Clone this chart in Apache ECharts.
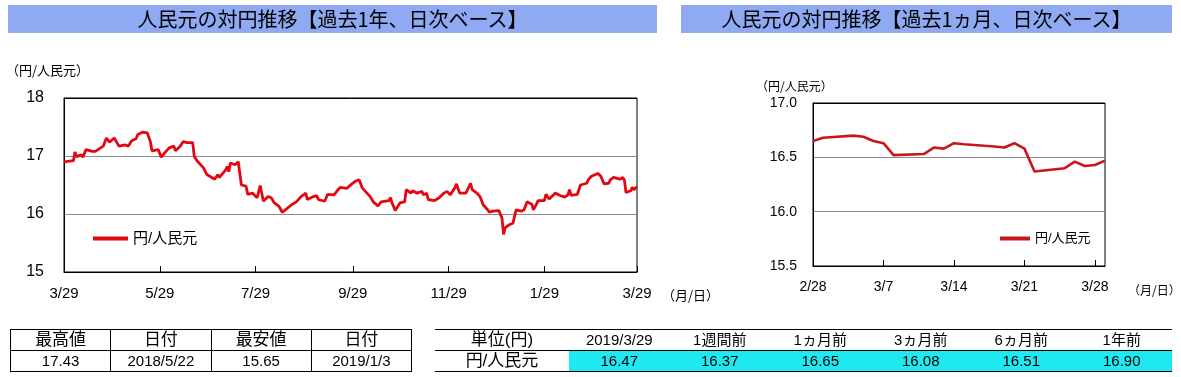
<!DOCTYPE html>
<html>
<head>
<meta charset="utf-8">
<script src="https://cdn.jsdelivr.net/npm/echarts@6/dist/echarts.min.js"></script>
<style>
  body { margin: 0; background: #fff; }
  #wrap { position: relative; width: 1181px; height: 377px; overflow: hidden;
    font-family: 'Liberation Sans', 'Noto Sans CJK JP', sans-serif; color: #000; }
  #chart { position: absolute; left: 0; top: 0; width: 1181px; height: 377px; }
  .title { position: absolute; top: 5px; height: 28px; line-height: 28px; background: #8faaf3;
    text-align: center; font-size: 20px; font-family: 'Noto Sans CJK JP', sans-serif; }
  table { position: absolute; border-collapse: collapse; table-layout: fixed; font-size: 15px; }
  td { height: 20px; padding: 0; text-align: center; line-height: 20px; white-space: nowrap; }
  #stats td { border: 1px solid #000; }
  #compare td { border-top: 1px solid #000; border-bottom: 1px solid #000; }
  #compare tr.vals td.cyan { background: #20e8f0; }
  .hd { font-size: 17px; }
</style>
</head>
<body>
<div id="wrap">
  <div id="chart"></div>
  <div class="title" style="left:8px;width:649px">人民元の対円推移【過去1年、日次ベース】</div>
  <div class="title" style="left:681px;width:491px">人民元の対円推移【過去1ヵ月、日次ベース】</div>
  <table id="stats" style="left:10px;top:329px;width:402px"></table>
  <table id="compare" style="left:435px;top:329px;width:737px"></table>
</div>
<script>
// 1年 日次
const yearDates = [
  '2018/3/29','2018/4/4','2018/4/5','2018/4/6','2018/4/9','2018/4/10','2018/4/12','2018/4/16','2018/4/18','2018/4/23',
  '2018/4/25','2018/4/27','2018/4/30','2018/5/3','2018/5/7','2018/5/9','2018/5/11','2018/5/14','2018/5/15','2018/5/16',
  '2018/5/18','2018/5/21','2018/5/22','2018/5/23','2018/5/24','2018/5/28','2018/5/30','2018/6/1','2018/6/4','2018/6/7',
  '2018/6/8','2018/6/11','2018/6/13','2018/6/15','2018/6/19','2018/6/20','2018/6/22','2018/6/26','2018/6/28','2018/6/29',
  '2018/7/3','2018/7/5','2018/7/6','2018/7/10','2018/7/11','2018/7/12','2018/7/13','2018/7/16','2018/7/17','2018/7/18',
  '2018/7/20','2018/7/23','2018/7/24','2018/7/27','2018/7/30','2018/7/31','2018/8/1','2018/8/3','2018/8/6','2018/8/8',
  '2018/8/10','2018/8/13','2018/8/15','2018/8/17','2018/8/21','2018/8/24','2018/8/27','2018/8/30','2018/8/31','2018/9/4',
  '2018/9/6','2018/9/7','2018/9/11','2018/9/13','2018/9/14','2018/9/17','2018/9/19','2018/9/21','2018/9/25','2018/9/28',
  '2018/10/1','2018/10/3','2018/10/5','2018/10/10','2018/10/12','2018/10/15','2018/10/17','2018/10/22','2018/10/23','2018/10/24',
  '2018/10/26','2018/10/29','2018/11/1','2018/11/2','2018/11/5','2018/11/6','2018/11/9','2018/11/12','2018/11/13','2018/11/15',
  '2018/11/16','2018/11/20','2018/11/23','2018/11/26','2018/11/28','2018/11/30','2018/12/3','2018/12/4','2018/12/6','2018/12/7',
  '2018/12/10','2018/12/13','2018/12/14','2018/12/17','2018/12/19','2018/12/21','2018/12/24','2018/12/25','2018/12/27','2018/12/28',
  '2018/12/31','2019/1/2','2019/1/3','2019/1/4','2019/1/7','2019/1/9','2019/1/10','2019/1/11','2019/1/14','2019/1/16',
  '2019/1/18','2019/1/21','2019/1/22','2019/1/24','2019/1/25','2019/1/29','2019/1/30','2019/2/1','2019/2/5','2019/2/8',
  '2019/2/11','2019/2/13','2019/2/14','2019/2/15','2019/2/19','2019/2/21','2019/2/25','2019/2/26','2019/2/28','2019/3/1',
  '2019/3/4','2019/3/5','2019/3/6','2019/3/7','2019/3/8','2019/3/11','2019/3/12','2019/3/13','2019/3/14','2019/3/15',
  '2019/3/18','2019/3/19','2019/3/20','2019/3/21','2019/3/22','2019/3/25','2019/3/26','2019/3/27','2019/3/28','2019/3/29'
];
const yearValues = [
  16.90,16.92,17.07,16.99,17.02,16.98,17.11,17.08,17.08,17.17,
  17.31,17.24,17.31,17.17,17.19,17.17,17.26,17.30,17.37,17.34,
  17.41,17.40,17.43,17.25,17.09,17.11,16.98,17.05,17.14,17.17,
  17.09,17.17,17.25,17.23,17.23,16.99,16.91,16.79,16.68,16.71,
  16.60,16.68,16.63,16.76,16.82,16.73,16.88,16.85,16.88,16.90,
  16.50,16.48,16.34,16.36,16.28,16.28,16.49,16.22,16.30,16.28,
  16.19,16.13,16.03,16.07,16.16,16.21,16.30,16.36,16.25,16.30,
  16.32,16.25,16.22,16.34,16.36,16.33,16.40,16.46,16.44,16.51,
  16.57,16.59,16.45,16.30,16.21,16.14,16.21,16.23,16.28,16.19,
  16.06,16.19,16.21,16.42,16.36,16.40,16.36,16.39,16.33,16.36,
  16.25,16.23,16.28,16.36,16.39,16.33,16.45,16.52,16.36,16.39,
  16.36,16.53,16.42,16.36,16.30,16.16,16.07,16.03,16.05,16.08,
  16.06,15.93,15.65,15.76,15.82,15.84,15.96,16.07,16.05,16.07,
  16.21,16.17,16.07,16.17,16.23,16.23,16.34,16.26,16.36,16.32,
  16.29,16.33,16.42,16.32,16.34,16.50,16.53,16.59,16.65,16.68,
  16.70,16.69,16.65,16.63,16.52,16.53,16.59,16.58,16.63,16.62,
  16.60,16.59,16.63,16.58,16.37,16.40,16.46,16.42,16.43,16.47
];
const yearTicks = ['2018/3/29','2018/5/29','2018/7/29','2018/9/29','2018/11/29','2019/1/29','2019/3/29'];

// 1ヵ月 日次
const monthDates = [
  '2019/2/28','2019/3/1','2019/3/4','2019/3/5','2019/3/6','2019/3/7','2019/3/8','2019/3/11','2019/3/12','2019/3/13',
  '2019/3/14','2019/3/15','2019/3/18','2019/3/19','2019/3/20','2019/3/21','2019/3/22','2019/3/25','2019/3/26','2019/3/27',
  '2019/3/28','2019/3/29'
];
const monthValues = [
  16.65,16.68,16.70,16.69,16.65,16.63,16.52,16.53,16.59,16.58,
  16.63,16.62,16.60,16.59,16.63,16.58,16.37,16.40,16.46,16.42,
  16.43,16.47
];
const monthTicks = ['2019/2/28','2019/3/7','2019/3/14','2019/3/21','2019/3/28'];
const monthEnd = '2019/3/29';

// 表
const statsHeaders = ['最高値', '日付', '最安値', '日付'];
const statsValues = ['17.43', '2018/5/22', '15.65', '2019/1/3'];
const compareHeaders = ['単位(円)', '2019/3/29', '1週間前', '1ヵ月前', '3ヵ月前', '6ヵ月前', '1年前'];
const compareLabel = '円/人民元';
const compareValues = [16.47, 16.37, 16.65, 16.08, 16.51, 16.90];

const seriesName = '円/人民元';
const yearColor = '#e3070f';
const monthColor = '#c8161d';

function toTime(s) {
  const p = s.split('/').map(Number);
  return new Date(p[0], p[1] - 1, p[2]).getTime();
}
function md(v) {
  const d = new Date(v);
  return (d.getMonth() + 1) + '/' + d.getDate();
}

// tables
let statsHtml = '<colgroup>' + statsHeaders.map(() => '<col style="width:100px">').join('') + '</colgroup>';
statsHtml += '<tr>' + statsHeaders.map(h => '<td class="hd">' + h + '</td>').join('') + '</tr>';
statsHtml += '<tr>' + statsValues.map(v => '<td>' + v + '</td>').join('') + '</tr>';
document.getElementById('stats').innerHTML = statsHtml;

let cmpHtml = '<colgroup><col style="width:134px">' + compareValues.map(() => '<col style="width:100.5px">').join('') + '</colgroup>';
cmpHtml += '<tr>' + compareHeaders.map((h, i) => '<td class="' + (i === 0 ? 'hd' : '') + '">' + h + '</td>').join('') + '</tr>';
cmpHtml += '<tr class="vals"><td class="hd">' + compareLabel + '</td>' +
  compareValues.map(v => '<td class="cyan">' + v.toFixed(2) + '</td>').join('') + '</tr>';
document.getElementById('compare').innerHTML = cmpHtml;

const chart = echarts.init(document.getElementById('chart'), null, { renderer: 'canvas' });
const fontFamily = "'Liberation Sans', 'Noto Sans CJK JP', sans-serif";

const yearData = yearDates.map((d, i) => [toTime(d), yearValues[i]]);
const monthData = monthDates.map((d, i) => [toTime(d), monthValues[i]]);

// 日付はタイムスタンプの数値軸で持ち、目盛りは customValues で指定
function dateAxis(gridIndex, ticks, endDate, fontSize) {
  const tv = ticks.map(toTime);
  return {
    type: 'value', gridIndex: gridIndex,
    min: tv[0], max: toTime(endDate), scale: true,
    axisLine: { lineStyle: { color: '#000', width: 1 } },
    axisTick: { inside: true, length: 6, lineStyle: { color: '#000' }, customValues: tv },
    axisLabel: { customValues: tv, formatter: md, fontSize: fontSize, color: '#000', margin: 14 },
    splitLine: { show: false }
  };
}

chart.setOption({
  animation: false,
  textStyle: { fontFamily: fontFamily, color: '#000' },
  grid: [
    { left: 64, top: 98, width: 573, height: 174, show: true, borderColor: '#000', borderWidth: 1, outerBoundsMode: 'none' },
    { left: 813, top: 103, width: 292, height: 163, show: true, borderColor: '#000', borderWidth: 1, outerBoundsMode: 'none' }
  ],
  xAxis: [
    dateAxis(0, yearTicks, yearTicks[yearTicks.length - 1], 15),
    dateAxis(1, monthTicks, monthEnd, 14)
  ],
  yAxis: [
    {
      type: 'value', gridIndex: 0, min: 15, max: 18, interval: 1,
      axisLine: { show: true, lineStyle: { color: '#000' } },
      axisTick: { show: false },
      axisLabel: { fontSize: 16, color: '#000', margin: 20 },
      splitLine: { lineStyle: { color: ['#000', '#8c8c8c', '#8c8c8c', '#000'], width: 1 } }
    },
    {
      type: 'value', gridIndex: 1, min: 15.5, max: 17, interval: 0.5,
      axisLine: { show: true, lineStyle: { color: '#000' } },
      axisTick: { show: false },
      axisLabel: { fontSize: 14, color: '#000', margin: 16, formatter: v => v.toFixed(1) },
      splitLine: { lineStyle: { color: ['#000', '#8c8c8c', '#8c8c8c', '#000'], width: 1 } }
    }
  ],
  legend: [
    {
      left: 88, top: 226, icon: 'rect', itemWidth: 35, itemHeight: 4, selectedMode: false,
      textStyle: { fontSize: 15, color: '#000', fontFamily: fontFamily },
      data: [{ name: seriesName, itemStyle: { color: yearColor } }]
    },
    {
      left: 995, top: 227, icon: 'rect', itemWidth: 30, itemHeight: 4, selectedMode: false,
      textStyle: { fontSize: 13, color: '#000', fontFamily: fontFamily },
      data: [{ name: seriesName, itemStyle: { color: monthColor } }]
    }
  ],
  graphic: [
    { type: 'text', left: 6, top: 64, style: { text: '（円/人民元）', font: "13px 'Noto Sans CJK JP'", fill: '#000' } },
    { type: 'text', left: 662, top: 289, style: { text: '（月/日）', font: "13px 'Noto Sans CJK JP'", fill: '#000' } },
    { type: 'text', left: 756, top: 80, style: { text: '（円/人民元）', font: "12px 'Noto Sans CJK JP'", fill: '#000' } },
    { type: 'text', left: 1128, top: 284, style: { text: '（月/日）', font: "12px 'Noto Sans CJK JP'", fill: '#000' } }
  ],
  series: [
    {
      name: seriesName, type: 'line', xAxisIndex: 0, yAxisIndex: 0, data: yearData,
      showSymbol: false, symbol: 'none', lineStyle: { color: yearColor, width: 2.8 }, itemStyle: { color: yearColor }
    },
    {
      name: seriesName, type: 'line', xAxisIndex: 1, yAxisIndex: 1, data: monthData,
      showSymbol: false, symbol: 'none', lineStyle: { color: monthColor, width: 2.6 }, itemStyle: { color: monthColor }
    }
  ]
});
</script>
</body>
</html>
